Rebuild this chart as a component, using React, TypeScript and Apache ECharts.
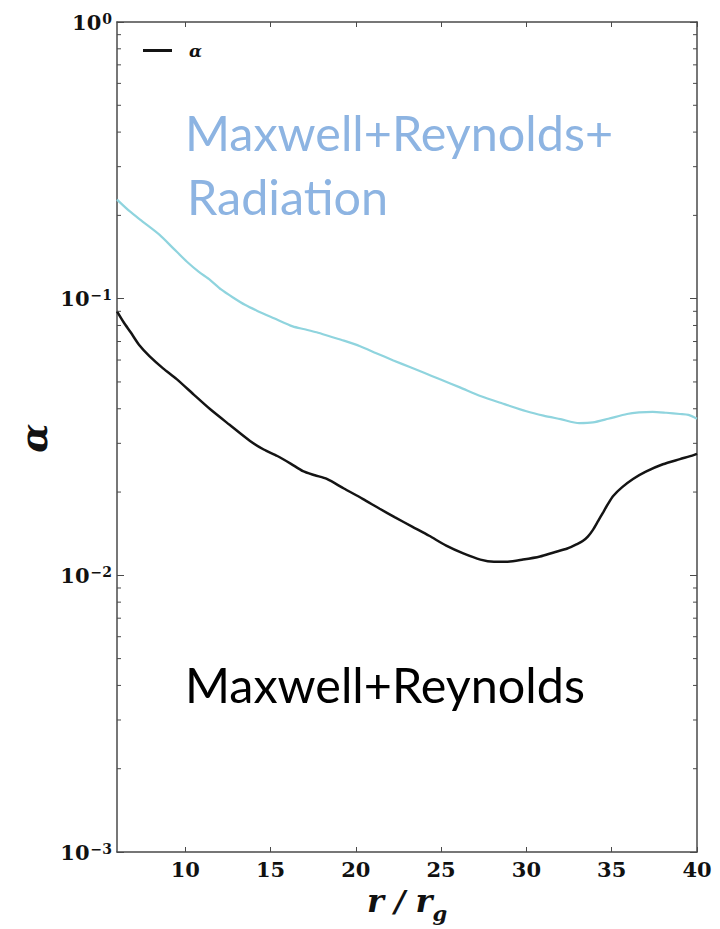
import React, { useEffect, useRef } from "react";
import * as echarts from "echarts";

// Radial profiles of the stress parameter alpha
const mrR = [6.0, 6.4, 6.8, 7.3, 7.9, 8.7, 9.5, 10.5, 11.45, 12.6, 13.8, 14.6, 15.4, 16.2, 16.9, 17.6, 18.3, 19.3, 20.4, 21.4, 22.3, 23.3, 24.3, 25.3, 26.3, 27.3, 28.1, 28.9, 29.8, 30.8, 31.6, 32.4, 33.0, 33.3, 33.6, 33.9, 34.2, 34.5, 34.8, 35.1, 35.6, 36.25, 37.0, 38.0, 39.0, 39.8, 40.0];
const mrAlpha = [0.09, 0.082, 0.0756, 0.068, 0.062, 0.056, 0.0512, 0.045, 0.0399, 0.035, 0.0306, 0.0285, 0.027, 0.0253, 0.0238, 0.023, 0.0223, 0.0206, 0.0189, 0.0174, 0.0162, 0.015, 0.0139, 0.0128, 0.012, 0.0114, 0.0112, 0.0112, 0.0114, 0.0117, 0.0121, 0.0125, 0.013, 0.0133, 0.0138, 0.0146, 0.0157, 0.0169, 0.0182, 0.0194, 0.0208, 0.0223, 0.0237, 0.0252, 0.0263, 0.0272, 0.0275];

const mrrR = [6.0, 6.7, 7.5, 8.5, 9.3, 10.1, 10.8, 11.45, 12.1, 12.8, 13.5, 14.2, 15.2, 16.3, 17.0, 17.7, 18.5, 19.3, 20.25, 21.2, 22.2, 23.2, 24.0, 24.9, 26.1, 27.3, 28.6, 30.0, 31.0, 32.0, 33.1, 33.9, 34.8, 35.9, 36.6, 37.4, 38.2, 39.0, 39.5, 40.0];
const mrrAlpha = [0.228, 0.208, 0.19, 0.17, 0.152, 0.136, 0.125, 0.117, 0.108, 0.101, 0.095, 0.0905, 0.085, 0.0794, 0.0775, 0.0756, 0.073, 0.0705, 0.0673, 0.0635, 0.0598, 0.0565, 0.054, 0.0512, 0.0478, 0.0445, 0.0418, 0.0392, 0.0378, 0.0367, 0.0355, 0.0357, 0.0368, 0.0383, 0.0388, 0.039, 0.0387, 0.0383, 0.038, 0.0368];

const xTicks = [10, 15, 20, 25, 30, 35, 40];
const yTicks = [0.001, 0.01, 0.1, 1];
const minorMultipliers = [2, 3, 4, 5, 6, 7, 8, 9];

const X_MIN = 6;
const X_MAX = 40;

const serif = "'DejaVu Serif', serif";
const sans = "Lato, 'Open Sans', sans-serif";
const axisColor = "#4a4a4a";

export default function App() {
  const ref = useRef<HTMLDivElement>(null);

  useEffect(() => {
    if (!ref.current) return;
    const chart = echarts.init(ref.current, null, { renderer: "svg" });

    const minorValues: number[] = [];
    yTicks.slice(0, -1).forEach((d) => minorMultipliers.forEach((m) => minorValues.push(m * d)));

    const tickLabel = {
      fontFamily: serif,
      fontWeight: "bold" as const,
      fontSize: 21,
      color: "#111",
    };

    const logLabel = (v: number) => {
      const e = Math.round(Math.log10(v));
      const sup = e === 0 ? "0" : "\u2212" + Math.abs(e);
      return "{b|10}{s|" + sup + "}";
    };

    const nameStyle = { fontFamily: serif, fontStyle: "italic", fontWeight: "bold", color: "#111" };

    const option: any = {
      animation: false,
      backgroundColor: "#fff",
      grid: { left: 117, right: 23, top: 22, bottom: 75, containLabel: false },
      legend: {
        data: [{ name: "α", icon: "rect" }],
        left: 138,
        top: 37,
        itemWidth: 29,
        itemHeight: 3,
        textStyle: {
          fontFamily: serif,
          fontStyle: "italic",
          fontWeight: "bold",
          fontSize: 17,
          color: "#111",
          padding: [0, 0, 0, 12],
        },
      },
      xAxis: [
        {
          type: "value",
          min: X_MIN,
          max: X_MAX,
          position: "bottom",
          axisLine: { show: true, lineStyle: { color: axisColor, width: 1.5 } },
          axisTick: { show: true, inside: true, length: 5, customValues: xTicks, lineStyle: { color: axisColor } },
          axisLabel: { show: true, customValues: xTicks, margin: 7, ...tickLabel },
          splitLine: { show: false },
          name: "{i|r}{n| / }{i|r}{g|g}",
          nameLocation: "middle",
          nameGap: 33,
          nameTextStyle: {
            rich: {
              i: { ...nameStyle, fontSize: 32 },
              n: { ...nameStyle, fontSize: 30 },
              g: { ...nameStyle, fontSize: 21, verticalAlign: "bottom", padding: [0, 0, -7, 0] },
            },
          },
        },
        {
          type: "value",
          min: X_MIN,
          max: X_MAX,
          position: "top",
          axisLine: { show: true, lineStyle: { color: axisColor, width: 1.5 } },
          axisTick: { show: true, inside: true, length: 5, customValues: xTicks, lineStyle: { color: axisColor } },
          axisLabel: { show: false },
          splitLine: { show: false },
        },
      ],
      yAxis: [
        {
          type: "log",
          logBase: 10,
          min: 0.001,
          max: 1,
          position: "left",
          axisLine: { show: true, lineStyle: { color: axisColor, width: 1.5 } },
          axisTick: { show: true, inside: true, length: 7, customValues: yTicks, lineStyle: { color: axisColor } },
          axisLabel: {
            show: true,
            customValues: yTicks,
            margin: 5,
            formatter: logLabel,
            rich: {
              b: { ...tickLabel },
              s: { ...tickLabel, fontSize: 14, verticalAlign: "top", padding: [0, 0, 0, 1] },
            },
          },
          splitLine: { show: false },
        },
        {
          type: "log",
          logBase: 10,
          min: 0.001,
          max: 1,
          position: "right",
          axisLine: { show: true, lineStyle: { color: axisColor, width: 1.5 } },
          axisTick: { show: true, inside: true, length: 7, customValues: yTicks, lineStyle: { color: axisColor } },
          axisLabel: { show: false },
          splitLine: { show: false },
        },
      ],
      series: [
        {
          name: "α",
          type: "line",
          data: mrR.map((r, i) => [r, mrAlpha[i]]),
          symbol: "none",
          smooth: 0.25,
          lineStyle: { color: "#141414", width: 2.5 },
          itemStyle: { color: "#141414" },
          z: 3,
        },
        {
          name: "α rad",
          type: "line",
          data: mrrR.map((r, i) => [r, mrrAlpha[i]]),
          symbol: "none",
          smooth: 0.25,
          lineStyle: { color: "#8fd4de", width: 2.2 },
          itemStyle: { color: "#8fd4de" },
          z: 2,
        },
        {
          // minor log ticks on both vertical frame edges
          name: "minor",
          type: "custom",
          silent: true,
          clip: false,
          data: minorValues.map((v) => [X_MIN, v]),
          renderItem: (params: any, api: any) => {
            const cs = params.coordSys;
            const y = api.coord([X_MIN, api.value(1)])[1];
            const style = { stroke: axisColor, lineWidth: 1 };
            return {
              type: "group",
              children: [
                { type: "line", shape: { x1: cs.x, y1: y, x2: cs.x + 4, y2: y }, style },
                { type: "line", shape: { x1: cs.x + cs.width - 4, y1: y, x2: cs.x + cs.width, y2: y }, style },
              ],
            };
          },
          z: 4,
        },
      ],
      graphic: [
        {
          type: "text",
          x: 33,
          y: 438,
          rotation: Math.PI / 2,
          style: {
            text: "α",
            fontFamily: serif,
            fontWeight: "bold",
            fontStyle: "italic",
            fontSize: 38,
            fill: "#111",
            align: "center",
            verticalAlign: "middle",
          },
        },
        {
          type: "text",
          x: 185,
          y: 132,
          style: {
            text: "Maxwell+Reynolds+",
            fontFamily: sans,
            fontSize: 48.5,
            fill: "#8db4e2",
            align: "left",
            verticalAlign: "middle",
          },
        },
        {
          type: "text",
          x: 187,
          y: 196,
          style: {
            text: "Radiation",
            fontFamily: sans,
            fontSize: 48.5,
            fill: "#8db4e2",
            align: "left",
            verticalAlign: "middle",
          },
        },
        {
          type: "text",
          x: 185,
          y: 684,
          style: {
            text: "Maxwell+Reynolds",
            fontFamily: sans,
            fontSize: 48.5,
            fill: "#000",
            align: "left",
            verticalAlign: "middle",
          },
        },
      ],
    };

    chart.setOption(option);
    return () => chart.dispose();
  }, []);

  return (
    <div
      ref={ref}
      style={{ position: "fixed", left: 0, top: 0, width: 720, height: 929, background: "#fff" }}
    />
  );
}
